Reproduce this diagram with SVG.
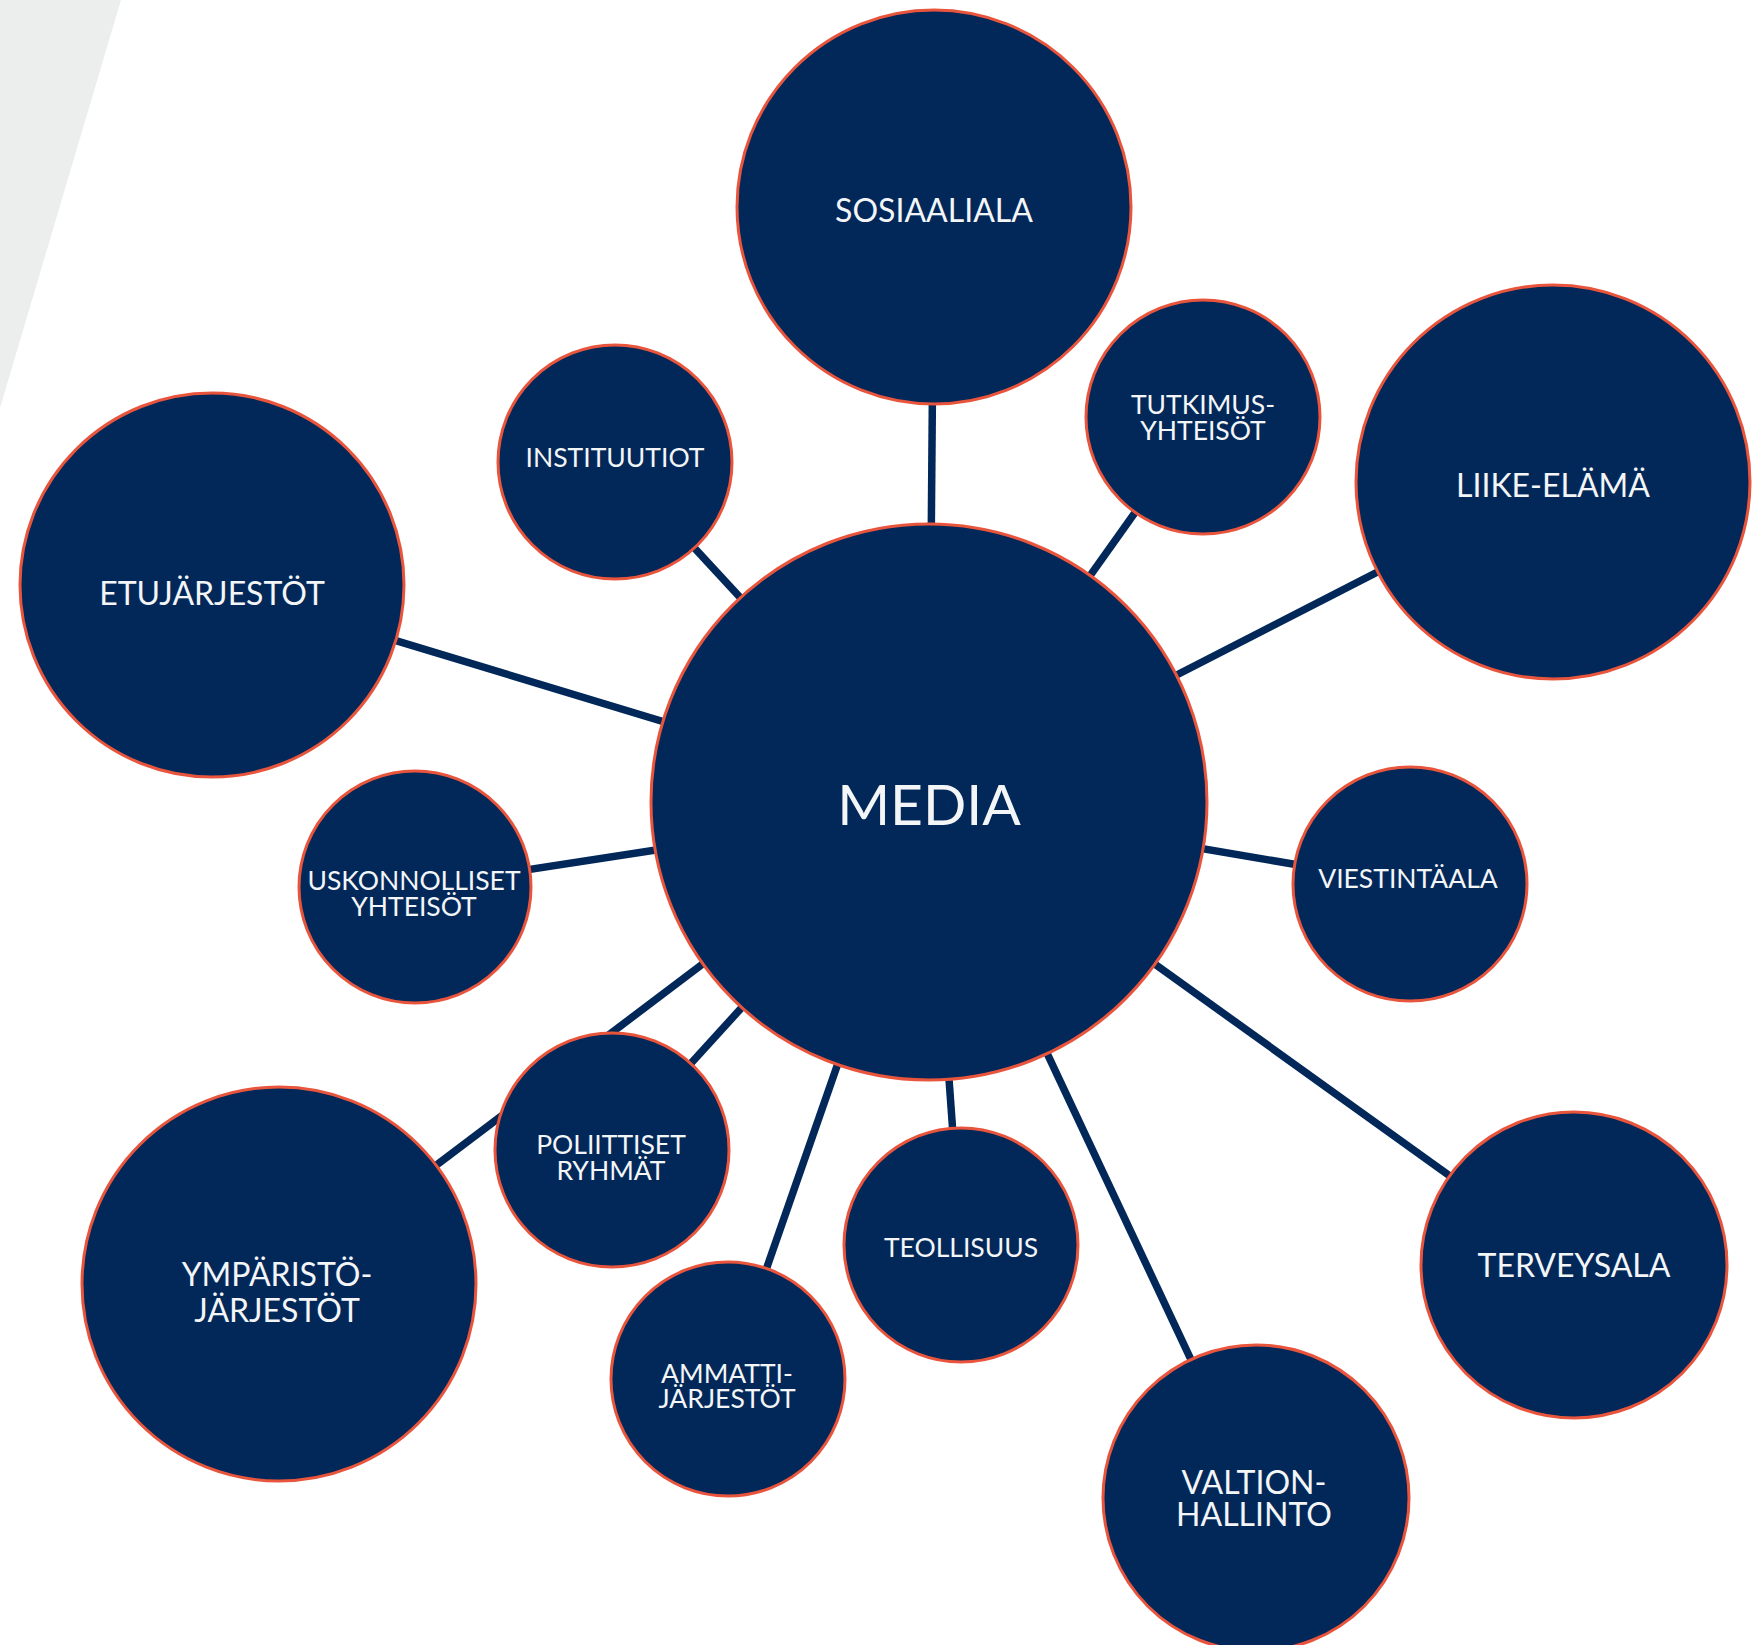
<svg xmlns="http://www.w3.org/2000/svg" width="1758" height="1645" viewBox="0 0 1758 1645">
  <style>
    .node circle { fill: #012859; stroke: #e9553c; stroke-width: 3; }
    .node text { fill: #f4f5f7; font-family: Lato, "Open Sans", "Liberation Sans", sans-serif; text-anchor: middle; }
    .sm { font-size: 26.5px; }
    .lg { font-size: 32px; }
    .xl { font-size: 57px; }
    #connectors line { stroke: #012859; stroke-width: 7.5; }
  </style>
  <rect x="0" y="0" width="1758" height="1645" fill="#ffffff"/>
  <!-- backdrop wedge -->
  <polygon points="0,0 121,0 0,408" fill="#eceeed"/>

  <g id="connectors">
    <line x1="929" y1="802" x2="934" y2="207"/>
    <line x1="929" y1="802" x2="615" y2="462"/>
    <line x1="929" y1="802" x2="212" y2="585"/>
    <line x1="929" y1="802" x2="1203" y2="417"/>
    <line x1="929" y1="802" x2="1553" y2="482"/>
    <line x1="929" y1="808" x2="415" y2="887"/>
    <line x1="929" y1="802" x2="1410" y2="884"/>
    <line x1="929" y1="802" x2="612" y2="1150"/>
    <line x1="929" y1="793" x2="279" y2="1284"/>
    <line x1="929" y1="802" x2="728" y2="1379"/>
    <line x1="929" y1="802" x2="961" y2="1245"/>
    <line x1="929" y1="802" x2="1256" y2="1498"/>
    <line x1="929" y1="802" x2="1574" y2="1265"/>
  </g>

  <g id="node-sosiaaliala" class="node">
    <circle cx="934" cy="207" r="197"/>
    <text class="lg" x="934" y="222">SOSIAALIALA</text>
  </g>
  <g id="node-instituutiot" class="node">
    <circle cx="615" cy="462" r="117"/>
    <text class="sm" x="615" y="467">INSTITUUTIOT</text>
  </g>
  <g id="node-etujarjestot" class="node">
    <circle cx="212" cy="585" r="192"/>
    <text class="lg" x="212" y="605">ETUJÄRJESTÖT</text>
  </g>
  <g id="node-tutkimusyhteisot" class="node">
    <circle cx="1203" cy="417" r="117"/>
    <text class="sm" x="1203" y="414">TUTKIMUS-</text>
    <text class="sm" x="1203" y="440">YHTEISÖT</text>
  </g>
  <g id="node-liike-elama" class="node">
    <circle cx="1553" cy="482" r="197"/>
    <text class="lg" x="1553" y="497">LIIKE-ELÄMÄ</text>
  </g>
  <g id="node-uskonnolliset" class="node">
    <circle cx="415" cy="887" r="116"/>
    <text class="sm" x="414" y="890">USKONNOLLISET</text>
    <text class="sm" x="414" y="916">YHTEISÖT</text>
  </g>
  <g id="node-viestintaala" class="node">
    <circle cx="1410" cy="884" r="117"/>
    <text class="sm" x="1408" y="888">VIESTINTÄALA</text>
  </g>
  <g id="node-poliittiset" class="node">
    <circle cx="612" cy="1150" r="117"/>
    <text class="sm" x="611" y="1154">POLIITTISET</text>
    <text class="sm" x="611" y="1180">RYHMÄT</text>
  </g>
  <g id="node-ymparistojarjestot" class="node">
    <circle cx="279" cy="1284" r="197"/>
    <text class="lg" x="277" y="1286">YMPÄRISTÖ-</text>
    <text class="lg" x="277" y="1322">JÄRJESTÖT</text>
  </g>
  <g id="node-ammattijarjestot" class="node">
    <circle cx="728" cy="1379" r="117"/>
    <text class="sm" x="727" y="1383">AMMATTI-</text>
    <text class="sm" x="727" y="1408">JÄRJESTÖT</text>
  </g>
  <g id="node-teollisuus" class="node">
    <circle cx="961" cy="1245" r="117"/>
    <text class="sm" x="961" y="1257">TEOLLISUUS</text>
  </g>
  <g id="node-terveysala" class="node">
    <circle cx="1574" cy="1265" r="153"/>
    <text class="lg" x="1574" y="1277">TERVEYSALA</text>
  </g>
  <g id="node-valtionhallinto" class="node">
    <circle cx="1256" cy="1498" r="153"/>
    <text class="lg" x="1254" y="1494">VALTION-</text>
    <text class="lg" x="1254" y="1526">HALLINTO</text>
  </g>
  <g id="node-media" class="node">
    <circle cx="929" cy="802" r="278"/>
    <text class="xl" x="929" y="825">MEDIA</text>
  </g>
</svg>
